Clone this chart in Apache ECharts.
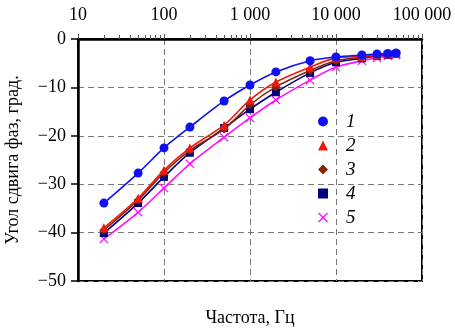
<!DOCTYPE html>
<html>
<head>
<meta charset="utf-8">
<script src="https://cdn.jsdelivr.net/npm/echarts@6/dist/echarts.min.js"></script>
<style>
    html, body { margin: 0; padding: 0; background: #fff; }
    #chart { width: 455px; height: 329px; }
</style>
</head>
<body>
<div id="chart"></div>
<script>
// ==================
// DATA
// ==================

const freqs = [20, 50, 100, 200, 500, 1000, 2000, 5000, 10000, 20000, 30000, 40000, 50000];

const phase1 = [-33.9, -27.7, -22.5, -18.2, -12.8, -9.5, -6.8, -4.5, -3.7, -3.3, -3.1, -3.0, -2.9];
const phase2 = [-39.0, -32.9, -27.1, -22.5, -17.8, -12.6, -8.9, -5.8, -3.9, -3.6, -3.3, -3.1, -3.0];
const phase3 = [-39.5, -33.3, -27.6, -23.0, -18.6, -13.6, -9.9, -6.5, -4.5, -3.8, -3.4, -3.2, -3.1];
const phase4 = [-40.1, -33.9, -28.5, -23.5, -18.4, -14.5, -11.0, -7.0, -4.8, -4.0, -3.5, -3.3, -3.1];
const phase5 = [-41.3, -35.8, -30.8, -25.8, -20.3, -16.3, -12.6, -8.5, -5.8, -4.5, -3.9, -3.5, -3.3];

const seriesNames = ['1', '2', '3', '4', '5'];
const minorTicks = [
    20, 30, 40, 50, 60, 70, 80, 90,
    200, 300, 400, 500, 600, 700, 800, 900,
    2000, 3000, 4000, 5000, 6000, 7000, 8000, 9000,
    20000, 30000, 40000, 50000, 60000, 70000, 80000, 90000
];

// ==================
// CONFIG
// ==================

const FONT = '"Liberation Serif", "DejaVu Serif", serif';
const crossPath = 'path://M1,0 L5,4 L9,0 L10,1 L6,5 L10,9 L9,10 L5,6 L1,10 L0,9 L4,5 L0,1 Z';

const styles = [
    { color: '#1010f5', symbol: 'circle', size: 9 },
    { color: '#ee1a0a', symbol: 'triangle', size: 9 },
    { color: '#8b2208', symbol: 'diamond', size: 9 },
    { color: '#000080', symbol: 'rect', size: 8 },
    { color: '#ff10ff', symbol: crossPath, size: 9 }
];

const values = [phase1, phase2, phase3, phase4, phase5];

const groupDigits = v => String(v).replace(/\B(?=(\d{3})+(?!\d))/g, ' ');
const minusFmt = v => (v < 0 ? '\u2212' + Math.abs(v) : String(v));

// ==================
// CHART
// ==================

const chart = echarts.init(document.getElementById('chart'));

const seriesData = values.map((vals, i) => ({
    name: seriesNames[i],
    type: 'line',
    xAxisIndex: 0,
    data: freqs.map((f, j) => [f, vals[j]]),
    smooth: 0.3,
    symbol: styles[i].symbol,
    symbolSize: styles[i].size,
    lineStyle: { color: styles[i].color, width: 1.6 },
    itemStyle: { color: styles[i].color },
    z: 10 - i
}));

const option = {
    animation: false,
    grid: {
        left: 78,
        right: 33,
        top: 39,
        bottom: 48,
        containLabel: false,
        outerBoundsMode: 'none',
        show: true,
        borderColor: '#000',
        borderWidth: 2,
        backgroundColor: 'transparent'
    },
    legend: {
        orient: 'vertical',
        left: 313,
        top: 107,
        itemWidth: 10,
        itemHeight: 10,
        itemGap: 5,
        data: seriesNames.map((n, i) => ({ name: n, icon: styles[i].symbol })),
        textStyle: {
            fontFamily: FONT,
            fontStyle: 'italic',
            fontSize: 19,
            lineHeight: 14,
            color: '#000',
            padding: [0, 0, 0, 13]
        }
    },
    xAxis: [
        {
            type: 'log',
            logBase: 10,
            min: 10,
            max: 100000,
            position: 'top',
            axisLine: { show: true, lineStyle: { color: '#000', width: 2.5 } },
            axisTick: { show: true, inside: false, length: 5, lineStyle: { color: '#555' } },
            axisLabel: {
                color: '#000',
                fontFamily: FONT,
                fontSize: 18,
                margin: 15,
                formatter: groupDigits
            },
            splitLine: {
                show: true,
                lineStyle: { color: '#777', type: [6, 4], width: 1 }
            }
        },
        {
            type: 'log',
            logBase: 10,
            min: 10,
            max: 100000,
            position: 'top',
            axisLine: { show: false },
            axisTick: {
                show: true,
                inside: false,
                length: 4,
                customValues: minorTicks,
                lineStyle: { color: '#555' }
            },
            axisLabel: { show: false },
            splitLine: { show: false }
        },
        {
            type: 'log',
            logBase: 10,
            min: 10,
            max: 100000,
            position: 'bottom',
            name: 'Частота, Гц',
            nameLocation: 'middle',
            nameGap: 28,
            nameTextStyle: { color: '#000', fontFamily: FONT, fontSize: 18 },
            axisLine: { show: false },
            axisTick: { show: false },
            axisLabel: { show: false },
            splitLine: { show: false }
        }
    ],
    yAxis: {
        type: 'value',
        min: -50,
        max: 0,
        interval: 10,
        name: 'Угол сдвига фаз, град.',
        nameLocation: 'middle',
        nameGap: 56,
        nameTextStyle: { color: '#000', fontFamily: FONT, fontSize: 18 },
        axisLine: { show: true, lineStyle: { color: '#000', width: 2.5 } },
        axisTick: { show: true, inside: false, length: 7, lineStyle: { color: '#000', width: 1.5 } },
        axisLabel: {
            color: '#000',
            fontFamily: FONT,
            fontSize: 18,
            margin: 12,
            formatter: minusFmt
        },
        splitLine: {
            show: true,
            lineStyle: { color: '#777', type: [6, 4], width: 1 }
        }
    },
    series: seriesData
};

chart.setOption(option);
</script>
</body>
</html>
